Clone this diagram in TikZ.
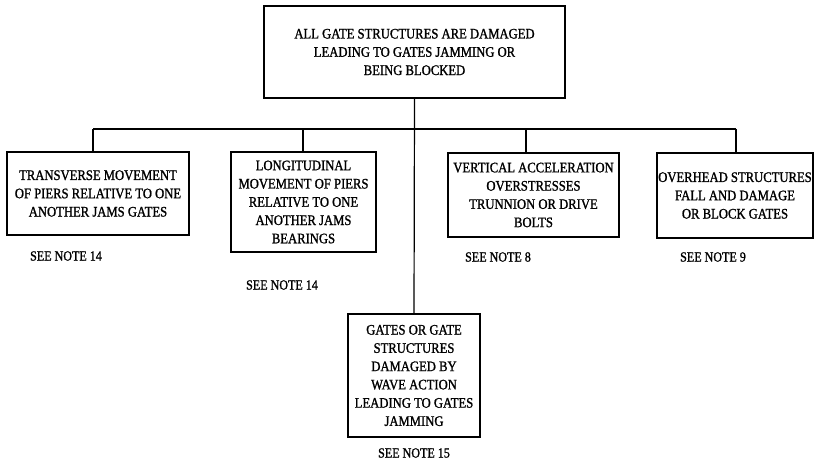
\documentclass[tikz,border=0pt]{standalone}
\usepackage{fontspec}
\setmainfont{Liberation Serif}[FakeStretch=0.87,FakeBold=1.2]
\begin{document}
\begin{tikzpicture}[x=0.75pt,y=-0.75pt,
  box/.style={draw,line width=0.9pt,inner sep=1pt,align=center,
    font=\fontsize{10.9}{13.7}\selectfont},
  note/.style={inner sep=0pt,font=\fontsize{10.4}{12}\selectfont},
  conn/.style={line width=0.9pt}]
\useasboundingbox (0,0) rectangle (827,466);
\node[box,minimum width=301*0.75pt,minimum height=92*0.75pt] (top) at (414.5,52)
  {ALL GATE STRUCTURES ARE DAMAGED\\LEADING TO GATES JAMMING OR\\BEING BLOCKED};
\node[box,minimum width=182*0.75pt,minimum height=83*0.75pt] (b1) at (98,193.5)
  {TRANSVERSE MOVEMENT\\OF PIERS RELATIVE TO ONE\\ANOTHER JAMS GATES};
\node[box,minimum width=145*0.75pt,minimum height=100*0.75pt] (b2) at (303.5,202)
  {LONGITUDINAL\\MOVEMENT OF PIERS\\RELATIVE TO ONE\\ANOTHER JAMS\\BEARINGS};
\node[box,minimum width=171*0.75pt,minimum height=84*0.75pt] (b3) at (533.5,195)
  {VERTICAL ACCELERATION\\OVERSTRESSES\\TRUNNION OR DRIVE\\BOLTS};
\node[box,minimum width=156*0.75pt,minimum height=85*0.75pt] (b4) at (735,195.5)
  {OVERHEAD STRUCTURES\\FALL AND DAMAGE\\OR BLOCK GATES};
\node[box,minimum width=132*0.75pt,minimum height=123*0.75pt] (b5) at (414,375.5)
  {GATES OR GATE\\STRUCTURES\\DAMAGED BY\\WAVE ACTION\\LEADING TO GATES\\JAMMING};
\node[note] (n1) at (66,256) {SEE NOTE 14};
\node[note] (n2) at (282,285) {SEE NOTE 14};
\node[note] (n3) at (498,257) {SEE NOTE 8};
\node[note] (n4) at (713,257) {SEE NOTE 9};
\node[note] (n5) at (414,453) {SEE NOTE 15};
\coordinate (j1) at (93,129);
\coordinate (j2) at (303,129);
\coordinate (j3) at (526,129);
\coordinate (j4) at (736,129);
\draw[conn] (top.south) -- (b5.north);
\draw[conn] (j1) -- (j4);
\draw[conn] (j1) -- (j1 |- b1.north);
\draw[conn] (j2) -- (j2 |- b2.north);
\draw[conn] (j3) -- (j3 |- b3.north);
\draw[conn] (j4) -- (j4 |- b4.north);
\end{tikzpicture}
\end{document}
